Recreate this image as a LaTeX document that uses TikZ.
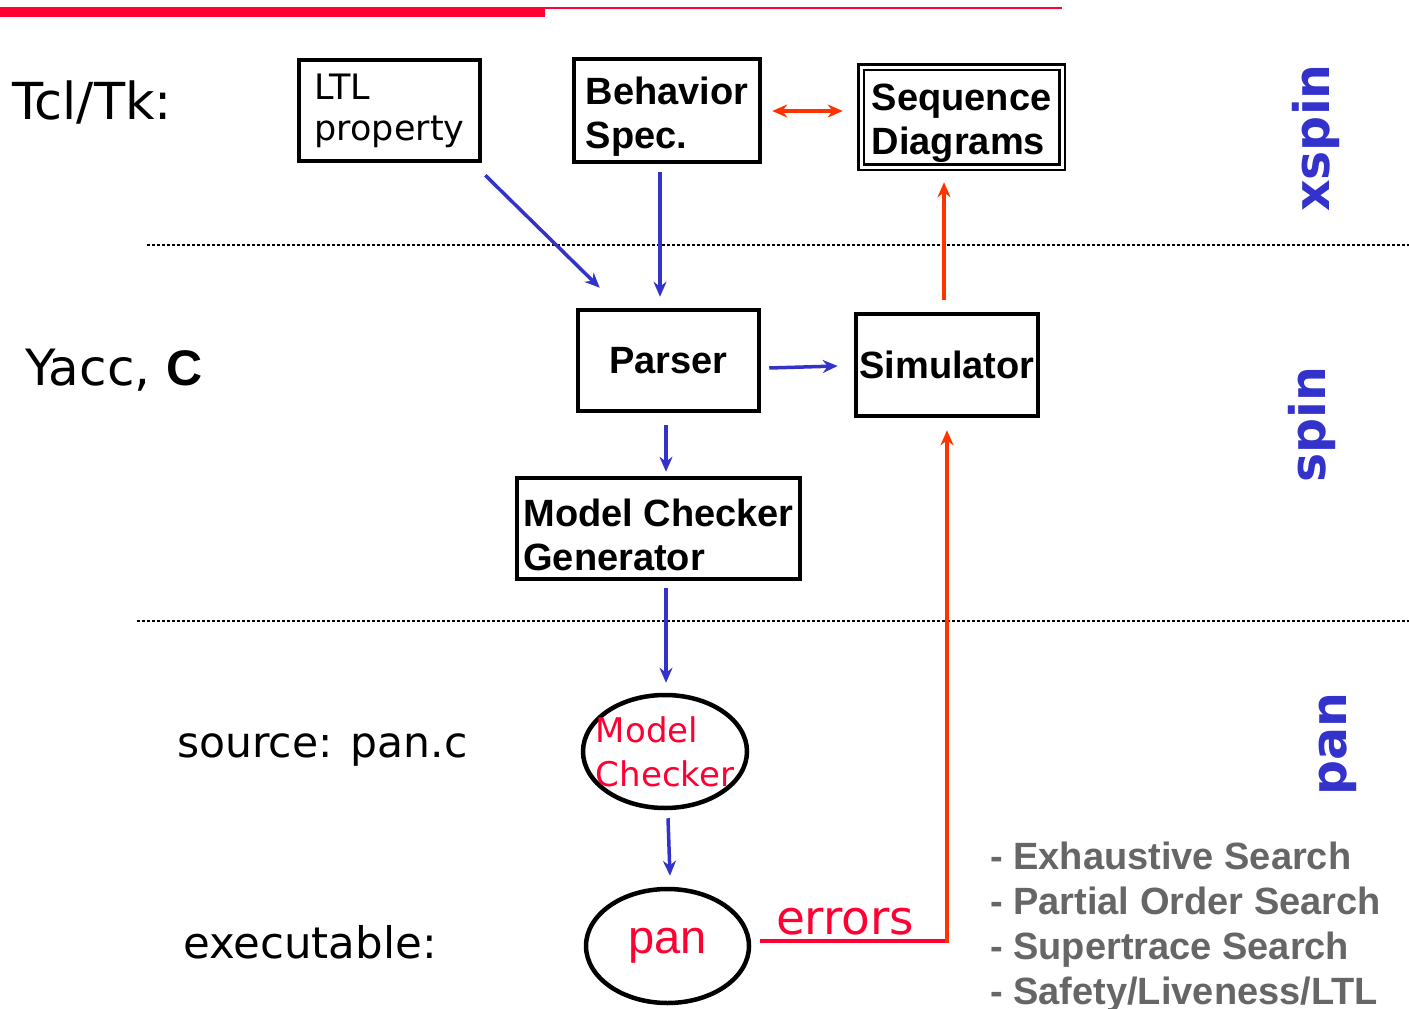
\documentclass[tikz,border=0pt]{standalone}
\usepackage{fontspec}
\setmainfont{Liberation Sans}
\newfontfamily\comicfont{DejaVu Sans}
\usetikzlibrary{shapes.geometric,arrows.meta}
\definecolor{spinblue}{HTML}{3333CC}
\definecolor{errred}{HTML}{FF0033}
\definecolor{simred}{HTML}{FF3300}
\definecolor{listgray}{HTML}{666666}
\newcommand\dropline{\rule{0pt}{40pt}}
\tikzset{
  blk/.style={draw, line width=4.5pt, align=left, inner sep=0pt, font=\bfseries\fontsize{38}{44}\selectfont},
  oval/.style={draw, ellipse, line width=4.5pt, inner sep=0pt},
  flow/.style={spinblue, line width=3.5pt, -{Stealth[length=15pt,width=13pt]}},
  back/.style={simred, line width=4pt, -{Stealth[length=15pt,width=13pt]}},
  sep/.style={line width=2pt, dash pattern=on 2.5pt off 2.5pt},
  side/.style={anchor=west, inner sep=0pt, font=\comicfont\fontsize{45}{50}\selectfont},
  tool/.style={spinblue, rotate=90, inner sep=0pt, font=\comicfont\bfseries\fontsize{49}{50}\selectfont},
}
\begin{document}
\begin{tikzpicture}[x=1pt,y=-1pt]
\useasboundingbox (0,0) rectangle (1409,1009);

%Top bar
\fill[errred] (0,7) rectangle (545,17);
\fill[errred] (545,7) rectangle (1062,9);

%Separators
\draw[sep] (147,245) -- (1409,245);
\draw[sep] (137,621) -- (1409,621);

%Shape: Rectangle [id:ltl]
\node[blk, minimum width=181, minimum height=101, font=\comicfont\fontsize{35}{41}\selectfont] (ltl) at (389.5,110.5) {LTL\\property};
%Shape: Rectangle [id:beh]
\node[blk, minimum width=186, minimum height=103] (beh) at (667,110.5) {\dropline Behavior\\Spec.};
%Shape: Double Rectangle [id:seq]
\node[blk, line width=2.5pt, double, double distance=3pt, minimum width=201, minimum height=100] (seq) at (961.5,117) {\dropline Sequence\\Diagrams};
%Shape: Rectangle [id:parser]
\node[blk, minimum width=181, minimum height=101] (parser) at (668.5,360.5) {Parser};
%Shape: Rectangle [id:sim]
\node[blk, minimum width=182, minimum height=102] (sim) at (947,365) {Simulator};
%Shape: Rectangle [id:mcg]
\node[blk, minimum width=283, minimum height=101] (mcg) at (658.5,528.5) {\dropline Model Checker\\Generator};
%Shape: Ellipse [id:mc]
\node[oval, minimum width=164, minimum height=113,
  label={[errred, align=left, font=\comicfont\fontsize{34}{44}\selectfont]center:{Model\\Checker}}] (mc) at (665,751.5) {};
%Shape: Ellipse [id:pan]
\node[oval, minimum width=163, minimum height=114,
  label={[errred, font=\fontsize{47}{50}\selectfont]center:pan}] (pan) at (667.5,946) {};

%Straight Lines
\draw[flow] ([shift={(3,12)}]ltl.south east) -- ([shift={(24,-20)}]parser.north west);
\draw[flow] ([shift={(-7,8)}]beh.south) -- ([shift={(-8.5,-11)}]parser.north);
\draw[flow] ([shift={(8,7.5)}]parser.east) -- ([shift={(-16,1)}]sim.west);
\draw[simred, line width=3.5pt, {Stealth[length=15pt,width=13pt]}-{Stealth[length=15pt,width=13pt]}] ([shift={(10,0.5)}]beh.east) -- ([shift={(-17,-6)}]seq.west);
\draw[back] ([shift={(-3,-12)}]sim.north) -- ([shift={(-17.5,14)}]seq.south);
\draw[flow] ([shift={(-2.5,12)}]parser.south) -- ([shift={(7.5,-4)}]mcg.north);
\draw[flow] ([shift={(7.5,7)}]mcg.south) -- ([shift={(1,-10)}]mc.north);
\draw[flow] ([shift={(3,8)}]mc.south) -- ([shift={(2.5,-11)}]pan.north);
%errors feedback
\coordinate (bend) at (947,941);
\draw[errred, line width=4pt] ([shift={(9,-5)}]pan.east) -- node[above, pos=0.45, inner sep=4pt, font=\comicfont\fontsize{47}{50}\selectfont] (errlbl) {errors} ([shift={(2,0)}]bend);
\draw[back] ([shift={(0,2)}]bend) -- ([shift={(0,12)}]sim.south);

% Text Node
\node[side, font=\comicfont\fontsize{51}{52}\selectfont] (tcl) at (12,102) {Tcl/Tk:};
% Text Node
\node[side, font=\comicfont\fontsize{50}{52}\selectfont] (yacc) at (25,370) {Yacc, {\rmfamily\bfseries C}};
% Text Node
\node[side, font=\comicfont\fontsize{42.5}{50}\selectfont] (src) at (177,750) {source: pan.c};
% Text Node
\node[side, font=\comicfont\fontsize{43.5}{50}\selectfont] (exe) at (183,942) {executable:};
% Text Node
\node[tool] (xspin) at (1316,138) {xspin};
% Text Node
\node[tool] (spin) at (1312,425) {spin};
% Text Node
\node[tool] (panlbl) at (1338,744) {pan};
% Text Node
\node[anchor=north west, align=left, inner sep=0pt, listgray, font=\bfseries\fontsize{38}{45}\selectfont] (modes) at (990,842) {- Exhaustive Search\\- Partial Order Search\\- Supertrace Search\\- Safety/Liveness/LTL};

\end{tikzpicture}
\end{document}
